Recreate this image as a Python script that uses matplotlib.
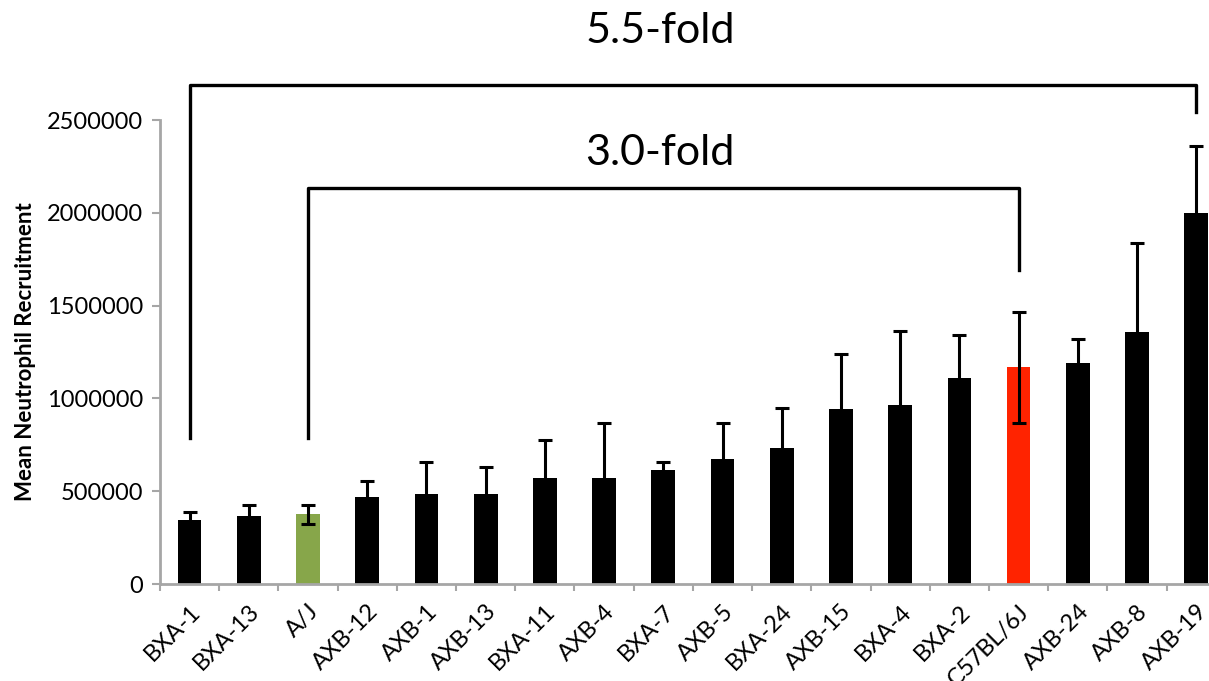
"""Mean neutrophil recruitment across AXB/BXA recombinant inbred strains."""
import numpy as np
import matplotlib.pyplot as plt

STRAINS = ["BXA-1", "BXA-13", "A/J", "AXB-12", "AXB-1", "AXB-13", "BXA-11", "AXB-4",
           "BXA-7", "AXB-5", "BXA-24", "AXB-15", "BXA-4", "BXA-2", "C57BL/6J",
           "AXB-24", "AXB-8", "AXB-19"]
MEANS = [345000, 366000, 375000, 467000, 485000, 485000, 569000, 569000,
         614000, 672000, 734000, 941000, 964000, 1108000, 1168000,
         1189000, 1359000, 2000000]
ERRORS = [45000, 60000, 51000, 88000, 172000, 147000, 207000, 297000,
          45000, 194000, 213000, 298000, 401000, 234000, 298000,
          131000, 480000, 360000]
YTICKS = [0, 500000, 1000000, 1500000, 2000000, 2500000]

HIGHLIGHT = {"A/J": "#87A64A", "C57BL/6J": "#FF2300"}
GRAY = "#A6A6A6"
FONT = ["Lato", "DejaVu Sans"]

fig = plt.figure(figsize=(12.09, 6.81), dpi=100)
ax = fig.add_axes([0.1323, 0.1424, 0.8817, 0.6813])

x = np.arange(len(STRAINS))
colors = [HIGHLIGHT.get(s, "black") for s in STRAINS]
ax.bar(x, MEANS, width=0.4, color=colors, zorder=2)
ax.errorbar(x, MEANS, yerr=ERRORS, fmt="none", ecolor="black", elinewidth=2.2,
            capsize=5, capthick=2.2, zorder=3)

ax.set_xlim(-0.5, len(STRAINS) - 0.5)
ax.set_ylim(0, 2500000)
ax.set_yticks(YTICKS)
ax.set_yticklabels([str(v) for v in YTICKS], fontsize=17, family=FONT)
ax.set_xticks(x)
ax.set_xticklabels(STRAINS, rotation=45, ha="right", rotation_mode="anchor",
                   fontsize=17, family=FONT)
ax.set_xticks(np.arange(len(STRAINS) + 1) - 0.5, minor=True)
ax.tick_params(axis="x", which="major", length=0, pad=12)
ax.tick_params(axis="x", which="minor", length=5, width=1.5, color=GRAY)
ax.tick_params(axis="y", length=6, width=1.5, color=GRAY, pad=6)

for side in ("top", "right"):
    ax.spines[side].set_visible(False)
for side in ("left", "bottom"):
    ax.spines[side].set_color(GRAY)
    ax.spines[side].set_linewidth(2)

ax.set_ylabel("Mean Neutrophil Recruitment", fontsize=16, fontweight="bold",
              family=FONT, labelpad=8)

# fold-change brackets
ax.plot([0, 0, 17, 17], [787000, 2688000, 2688000, 2543000], color="black",
        lw=2.4, clip_on=False, zorder=4)
ax.plot([2, 2, 14, 14], [787000, 2134000, 2134000, 1692000], color="black",
        lw=2.4, clip_on=False, zorder=4)
fig.text(0.546, 0.955, "5.5-fold", ha="center", va="center", fontsize=31, family=FONT)
fig.text(0.546, 0.776, "3.0-fold", ha="center", va="center", fontsize=31, family=FONT)

fig.savefig("out.png", dpi=100)
